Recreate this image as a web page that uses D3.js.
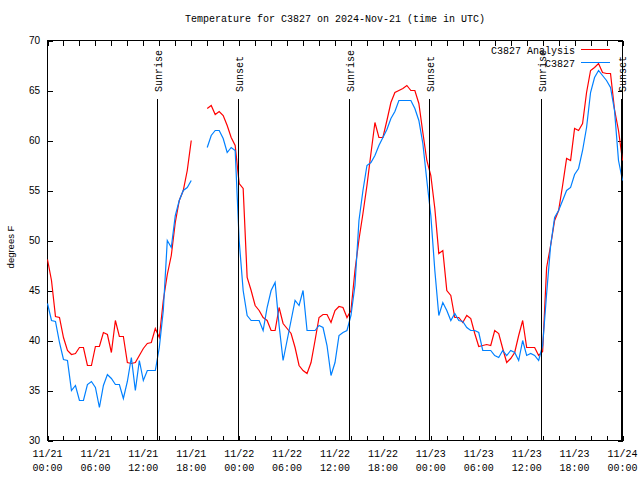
<!DOCTYPE html>
<html>
<head>
<meta charset="utf-8">
<script src="https://cdn.jsdelivr.net/npm/d3@7"></script>
<style>
  html, body { margin: 0; padding: 0; background: #fff; }
  svg { display: block; }
</style>
</head>
<body>
<svg id="chart" width="640" height="480"></svg>
<script>
// ---------------- DATA ----------------
const title = "Temperature for C3827 on 2024-Nov-21 (time in UTC)";
const yLabel = "degrees F";
const seriesNames = ["C3827 Analysis", "C3827"];
const seriesColors = ["#ff0000", "#0080ff"];

// hours since 2024-11-21 00:00 UTC
const hours = [
  0,0.5,1,1.5,2,2.5,3,3.5,4,4.5,5,5.5,
  6,6.5,7,7.5,8,8.5,9,9.5,10,10.5,11,11.5,
  12,12.5,13,13.5,14,14.5,15,15.5,16,16.5,17,17.5,
  18,18.5,19,19.5,20,20.5,21,21.5,22,22.5,23,23.5,
  24,24.5,25,25.5,26,26.5,27,27.5,28,28.5,29,29.5,
  30,30.5,31,31.5,32,32.5,33,33.5,34,34.5,35,35.5,
  36,36.5,37,37.5,38,38.5,39,39.5,40,40.5,41,41.5,
  42,42.5,43,43.5,44,44.5,45,45.5,46,46.5,47,47.5,
  48,48.5,49,49.5,50,50.5,51,51.5,52,52.5,53,53.5,
  54,54.5,55,55.5,56,56.5,57,57.5,58,58.5,59,59.5,
  60,60.5,61,61.5,62,62.5,63,63.5,64,64.5,65,65.5,
  66,66.5,67,67.5,68,68.5,69,69.5,70,70.5,71,71.5,
  72
];

// C3827 Analysis (red)
const analysis = [
  48.1,46,42.4,42.3,40.3,39,38.6,38.7,39.3,39.3,37.5,37.5,
  39.4,39.4,40.8,40.6,38.8,42,40.4,40.4,37.8,37.7,37.8,38.5,
  39.2,39.7,39.8,41.2,40.3,44,46.6,48.5,51.8,54,55,57,
  60,null,null,null,63.2,63.5,62.6,62.9,62.5,61.5,60.3,59.5,
  55.7,55.2,46.3,45,43.5,43,42.3,42,41,41,43.3,41.7,
  41.2,40.7,39.3,37.5,37,36.7,37.8,40,42.3,42.6,42.6,41.8,
  43,43.4,43.3,42.3,43,47,50.1,52.7,55.5,58.7,61.8,60.3,
  60.3,62,63.8,64.8,65,65.2,65.5,65,65,63.7,60.8,58,
  56.5,53.2,48.7,49,45,44.5,42.3,42.3,41.8,42.5,42.2,40.7,
  39.4,39.5,39.6,39.5,41,40.7,39.2,37.8,38.2,38.8,40.5,42,
  39.3,39.3,39.3,38.5,38.9,47.3,49.5,52,53,55.5,58.2,58,
  61.2,61,61.7,64.8,67,67.3,67.7,66.8,66.7,66.7,63.1,61,
  58
];

// C3827 observed (blue)
const observed = [
  43.7,42,41.9,39.8,38.1,38,35,35.5,34,34,35.6,35.9,
  35.3,33.3,35.5,36.6,36.2,35.6,35.6,34.2,35.9,38.3,35,38,
  36,37,37,37,39.3,43,50,49.3,52.5,54,55,55.3,
  56,null,null,null,59.3,60.5,61,61,60.2,58.8,59.3,59,
  50,45,42.5,42,42,42,41,43.3,45,45.8,41.5,38,
  40,42,44,43.5,45,41,41,41,41.5,41.3,39.5,36.5,
  37.8,40.5,40.8,41,42.5,45.5,52,55,57.5,57.8,58.5,59.5,
  60.3,61.1,62.2,62.9,64,64,64,64,63.2,62,59.7,56,
  52.5,47,42.5,43.8,43,42,42.7,42,41.9,41.3,41,41,
  40.8,39,39,39,38.5,38.3,39,38.5,39,38.8,38,40,
  38.5,38.7,38.5,38,39.5,44.7,49.5,52.3,53,54,55,55.3,
  56.6,57.2,59,61.3,64.8,66.3,67,66.5,66,65.3,63,58,
  56
];

// sunrise / sunset markers (hours since start)
const sunEvents = ["Sunrise","Sunset","Sunrise","Sunset","Sunrise","Sunset"];
const sunHours = [13.72, 23.82, 37.74, 47.81, 61.74, 71.82];

// axis ticks
const xTickHours = [0,2,4,6,8,10,12,14,16,18,20,22,24,26,28,30,32,34,36,38,40,42,44,46,48,50,52,54,56,58,60,62,64,66,68,70,72];
const xLabelHours = [0,6,12,18,24,30,36,42,48,54,60,66,72];
const xLabelDates = ["11/21","11/21","11/21","11/21","11/22","11/22","11/22","11/22","11/23","11/23","11/23","11/23","11/24"];
const xLabelTimes = ["00:00","06:00","12:00","18:00","00:00","06:00","12:00","18:00","00:00","06:00","12:00","18:00","00:00"];
const yTicks = [30,35,40,45,50,55,60,65,70];

// ---------------- DRAW ----------------
const svg = d3.select("#chart");
const L = 47.5, R = 622.5, T = 40.5, B = 440.5;
const x = d3.scaleLinear().domain([0, 72]).range([L, R]);
const y = d3.scaleLinear().domain([30, 70]).range([B, T]);
const mono = "'Liberation Mono', 'DejaVu Sans Mono', monospace";
const sans = "'Liberation Sans', Arial, sans-serif";

// title
svg.append("text")
  .attr("x", (L + R) / 2).attr("y", 22)
  .attr("text-anchor", "middle")
  .attr("font-family", mono).attr("font-size", 10)
  .text(title);

// y label
svg.append("text")
  .attr("transform", "translate(14," + 247 + ") rotate(-90)")
  .attr("text-anchor", "middle")
  .attr("font-family", sans).attr("font-size", 9.5)
  .text(yLabel);

// axes (ticks inward, on all four sides)
function styleAxis(g) {
  g.select(".domain").remove();
  g.selectAll("line").attr("stroke", "#000").attr("shape-rendering", "crispEdges");
}
svg.append("g").attr("transform", `translate(0,${B})`)
  .call(d3.axisBottom(x).tickValues(xTickHours).tickSizeInner(-5).tickSizeOuter(0).tickFormat(""))
  .call(styleAxis);
svg.append("g").attr("transform", `translate(0,${T})`)
  .call(d3.axisTop(x).tickValues(xTickHours).tickSizeInner(-5).tickSizeOuter(0).tickFormat(""))
  .call(styleAxis);
const yAxisL = svg.append("g").attr("transform", `translate(${L},0)`)
  .call(d3.axisLeft(y).tickValues(yTicks).tickSizeInner(-5).tickSizeOuter(0).tickPadding(8))
  .call(styleAxis);
yAxisL.selectAll("text").attr("font-family", sans).attr("font-size", 10).attr("fill", "#000")
  .attr("x", 40 - L);
svg.append("g").attr("transform", `translate(${R},0)`)
  .call(d3.axisRight(y).tickValues(yTicks).tickSizeInner(-5).tickSizeOuter(0).tickFormat(""))
  .call(styleAxis);

// x labels (two lines)
const xl = svg.append("g").selectAll("text").data(xLabelHours).join("text")
  .attr("text-anchor", "middle")
  .attr("font-family", mono).attr("font-size", 10)
  .attr("x", d => x(d));
xl.append("tspan").attr("x", d => x(d)).attr("y", 457).text((d, i) => xLabelDates[i]);
xl.append("tspan").attr("x", d => x(d)).attr("y", 471).text((d, i) => xLabelTimes[i]);

// frame
svg.append("rect")
  .attr("x", L).attr("y", T).attr("width", R - L).attr("height", B - T)
  .attr("fill", "none").attr("stroke", "#000").attr("shape-rendering", "crispEdges");

// series
const rows = hours.map((h, i) => ({ h, a: analysis[i], o: observed[i] }));
const lineA = d3.line().defined(d => d.a != null).x(d => x(d.h)).y(d => y(d.a));
const lineO = d3.line().defined(d => d.o != null).x(d => x(d.h)).y(d => y(d.o));
svg.append("path").datum(rows).attr("d", lineA)
  .attr("fill", "none").attr("stroke", seriesColors[0]).attr("stroke-width", 1.2);
svg.append("path").datum(rows).attr("d", lineO)
  .attr("fill", "none").attr("stroke", seriesColors[1]).attr("stroke-width", 1.2);

// sunrise / sunset lines + labels
const sun = svg.append("g");
sun.selectAll("line").data(sunHours).join("line")
  .attr("x1", d => Math.round(x(d)) + 0.5).attr("x2", d => Math.round(x(d)) + 0.5)
  .attr("y1", 99).attr("y2", B)
  .attr("stroke", "#000").attr("shape-rendering", "crispEdges");
sun.selectAll("text").data(sunHours).join("text")
  .attr("transform", d => `translate(${Math.round(x(d)) + 5},92) rotate(-90)`)
  .attr("text-anchor", "start")
  .attr("font-family", mono).attr("font-size", 10)
  .text((d, i) => sunEvents[i]);

// legend
const leg = svg.append("g");
seriesNames.forEach((name, i) => {
  const ly = 49.5 + i * 13;
  leg.append("text").attr("x", 575).attr("y", ly + 4)
    .attr("text-anchor", "end").attr("font-family", mono).attr("font-size", 10)
    .text(name);
  leg.append("line").attr("x1", 581).attr("x2", 610).attr("y1", ly).attr("y2", ly)
    .attr("stroke", seriesColors[i]).attr("shape-rendering", "crispEdges");
});
</script>
</body>
</html>
